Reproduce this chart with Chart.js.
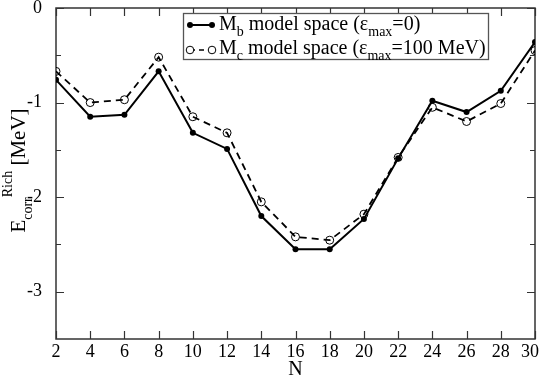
<!DOCTYPE html>
<html>
<head>
<meta charset="utf-8">
<script src="https://cdn.jsdelivr.net/npm/chart.js@4/dist/chart.umd.min.js"></script>
<style>
html,body{margin:0;padding:0;background:#fff;}
canvas{display:block;}
</style>
</head>
<body>
<canvas id="c" width="540" height="377"></canvas>
<script>
// ---- data ----
const N = [2, 4, 6, 8, 10, 12, 14, 16, 18, 20, 22, 24, 26, 28, 30];
const Mb = [-0.76, -1.15, -1.13, -0.67, -1.32, -1.49, -2.20, -2.55, -2.55, -2.23, -1.59, -0.98, -1.10, -0.875, -0.36];
const Mc = [-0.67, -1.00, -0.97, -0.52, -1.15, -1.32, -2.05, -2.42, -2.455, -2.18, -1.58, -1.05, -1.20, -1.01, -0.45];
const xTicks = [2, 4, 6, 8, 10, 12, 14, 16, 18, 20, 22, 24, 26, 28, 30];
const xTickLabels = ['2','4','6','8','10','12','14','16','18','20','22','24','26','28','30'];
const yTicks = [0, -1, -2, -3];
const yTickLabels = ['0', '-1', '-2', '-3'];
const yMinorTicks = [-0.5, -1.5, -2.5];
const seriesNames = ['M_b', 'M_c'];
const xTitle = 'N';

const FONT = '"Liberation Serif", "Times New Roman", serif';

const deco = {
  id: 'deco',
  beforeDatasetsDraw(chart) {
    const {ctx, chartArea: a, scales: {x, y}} = chart;
    ctx.save();
    ctx.strokeStyle = '#333';
    ctx.lineWidth = 1.5;
    ctx.strokeRect(a.left, a.top, a.right - a.left, a.bottom - a.top);
    ctx.lineWidth = 1.2;
    ctx.beginPath();
    for (const v of xTicks) {
      const px = Math.round(x.getPixelForValue(v)) + 0.5;
      ctx.moveTo(px, a.bottom); ctx.lineTo(px, a.bottom - 8);
      ctx.moveTo(px, a.top); ctx.lineTo(px, a.top + 8);
    }
    for (const v of yTicks) {
      const py = Math.round(y.getPixelForValue(v)) + 0.5;
      ctx.moveTo(a.left, py); ctx.lineTo(a.left + 8, py);
      ctx.moveTo(a.right, py); ctx.lineTo(a.right - 8, py);
    }
    for (const v of yMinorTicks) {
      const py = Math.round(y.getPixelForValue(v)) + 0.5;
      ctx.moveTo(a.left, py); ctx.lineTo(a.left + 5, py);
      ctx.moveTo(a.right, py); ctx.lineTo(a.right - 5, py);
    }
    ctx.stroke();
    // x tick labels
    ctx.fillStyle = '#000';
    ctx.font = '18px ' + FONT;
    ctx.textBaseline = 'alphabetic';
    ctx.textAlign = 'left';
    xTicks.forEach((v, i) => {
      const t = xTickLabels[i];
      const w = ctx.measureText(t).width;
      let px = x.getPixelForValue(v) - w / 2;
      if (px + w > chart.width - 1) px = chart.width - 1 - w;
      ctx.fillText(t, px, a.bottom + 18);
    });
    // x title
    ctx.font = '20px ' + FONT;
    const tw = ctx.measureText(xTitle).width;
    ctx.fillText(xTitle, (a.left + a.right) / 2 - tw / 2, 375);
    // y title with sub/superscript
    const big = '21px ' + FONT, small = '14px ' + FONT;
    const parts = [['E', big, 0], ['corr', small, 7], ['Rich', small, -13], [' [MeV]', big, 0]];
    const widths = parts.map(p => { ctx.font = p[1]; return ctx.measureText(p[0]).width; });
    const total = widths.reduce((s, w) => s + w, 0);
    ctx.translate(25, (a.top + a.bottom) / 2 + total / 2 - 3);
    ctx.rotate(-Math.PI / 2);
    let cx = 0;
    parts.forEach((p, i) => {
      ctx.font = p[1];
      ctx.fillText(p[0], cx, p[2]);
      cx += widths[i];
    });
    ctx.restore();
  },
  afterDraw(chart) {
    const {ctx} = chart;
    ctx.save();
    // legend box
    ctx.fillStyle = '#fff';
    ctx.fillRect(183.5, 13.5, 305, 46);
    ctx.strokeStyle = '#555';
    ctx.lineWidth = 1.3;
    ctx.strokeRect(183.5, 13.5, 305, 46);
    // row 1 symbol
    ctx.strokeStyle = '#000';
    ctx.lineWidth = 2;
    ctx.beginPath(); ctx.moveTo(190, 25); ctx.lineTo(212, 25); ctx.stroke();
    ctx.fillStyle = '#000';
    for (const px of [190, 212]) { ctx.beginPath(); ctx.arc(px, 25, 3, 0, 2 * Math.PI); ctx.fill(); }
    // row 2 symbol
    ctx.lineWidth = 1.5;
    ctx.setLineDash([5, 4]);
    ctx.beginPath(); ctx.moveTo(190, 50); ctx.lineTo(212, 50); ctx.stroke();
    ctx.setLineDash([]);
    ctx.lineWidth = 1;
    for (const px of [190, 212]) { ctx.beginPath(); ctx.arc(px, 50, 3.8, 0, 2 * Math.PI); ctx.fillStyle = '#fff'; ctx.fill(); ctx.stroke(); }
    // texts
    ctx.fillStyle = '#000';
    ctx.textBaseline = 'alphabetic';
    const big = '20px ' + FONT, small = '14px ' + FONT;
    const rows = [
      [[ 'M', big, 0], ['b', small, 6], [' model space (\u03b5', big, 0], ['max', small, 6], ['=0)', big, 0]],
      [[ 'M', big, 0], ['c', small, 6], [' model space (\u03b5', big, 0], ['max', small, 6], ['=100 MeV)', big, 0]]
    ];
    const baselines = [30, 54];
    rows.forEach((r, ri) => {
      let cx = 219;
      r.forEach(p => {
        ctx.font = p[1];
        ctx.fillText(p[0], cx, baselines[ri] + p[2]);
        cx += ctx.measureText(p[0]).width;
      });
    });
    ctx.restore();
  }
};

new Chart(document.getElementById('c'), {
  type: 'line',
  data: {
    datasets: [
      {
        label: seriesNames[0],
        data: N.map((n, i) => ({x: n, y: Mb[i]})),
        borderColor: '#000',
        backgroundColor: '#000',
        borderWidth: 2,
        pointRadius: 3,
        pointBorderWidth: 0,
        pointBackgroundColor: '#000',
        tension: 0,
        fill: false
      },
      {
        label: seriesNames[1],
        data: N.map((n, i) => ({x: n, y: Mc[i]})),
        borderColor: '#000',
        borderWidth: 1.8,
        borderDash: [7, 5],
        pointRadius: 4,
        pointBorderWidth: 1,
        pointBorderColor: '#000',
        pointBackgroundColor: 'rgba(255,255,255,0)',
        tension: 0,
        fill: false
      }
    ]
  },
  options: {
    responsive: false,
    animation: false,
    devicePixelRatio: 1,
    layout: {padding: {top: 8, right: 1, left: 0, bottom: 0}},
    plugins: {legend: {display: false}, tooltip: {enabled: false}},
    scales: {
      x: {
        type: 'linear',
        min: 2, max: 30,
        grid: {display: false},
        border: {display: false},
        ticks: {display: false},
        afterBuildTicks: s => { s.ticks = xTicks.map(v => ({value: v})); },
        title: {display: false},
        afterFit: s => { s.height = 38; s.paddingLeft = 0; s.paddingRight = 0; }
      },
      y: {
        type: 'linear',
        min: -3.5, max: 0,
        grid: {display: false},
        border: {display: false},
        afterBuildTicks: s => { s.ticks = yTicks.map(v => ({value: v})); },
        ticks: {
          color: '#000',
          font: {family: FONT, size: 18},
          padding: 6,
          callback: (v) => { const i = yTicks.indexOf(v); return i >= 0 ? yTickLabels[i] : ''; }
        },
        afterFit: s => { s.width = 56; s.paddingTop = 0; s.paddingBottom = 0; }
      }
    }
  },
  plugins: [deco]
});
</script>
</body>
</html>
